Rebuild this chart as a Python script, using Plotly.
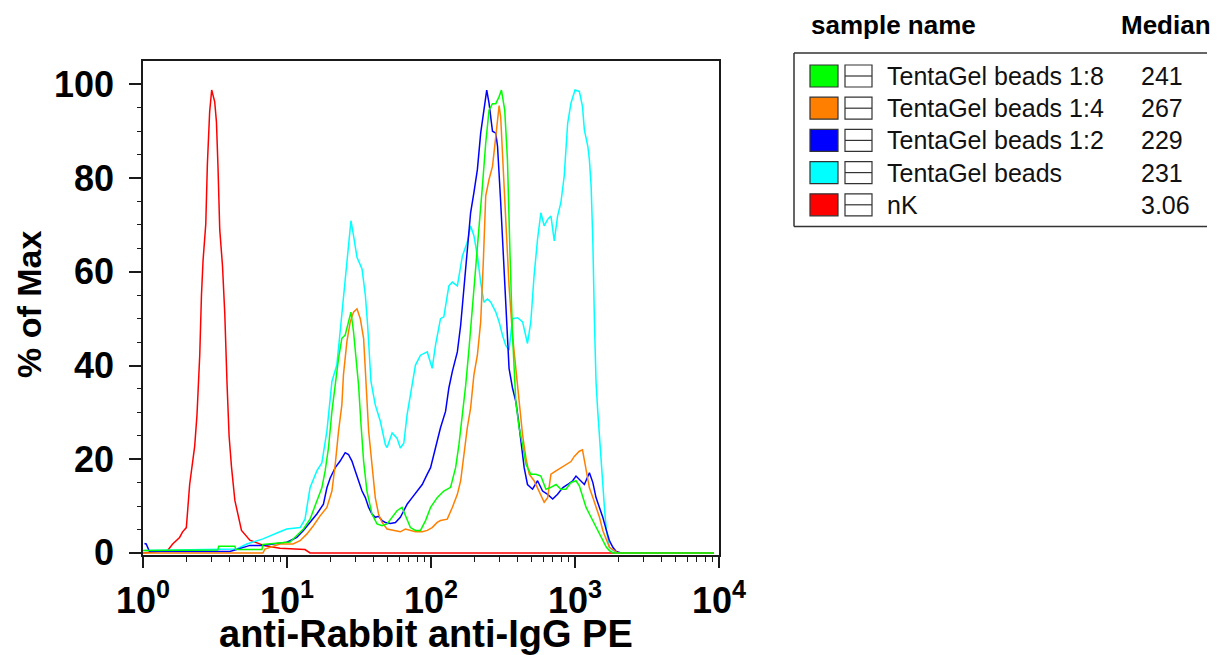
import numpy as np
import plotly.graph_objects as go

# ---------------- data (x as log10 of fluorescence, y as % of max) ----------------
sample_names = ["TentaGel beads 1:8", "TentaGel beads 1:4", "TentaGel beads 1:2",
                "TentaGel beads", "nK"]
medians = ["241", "267", "229", "231", "3.06"]
colors = ["#00FF00", "#FF8000", "#0000FF", "#00FFFF", "#FF0000"]

x_tick_vals = [1, 10, 100, 1000, 10000]
x_tick_text = ["10<sup>0</sup>", "10<sup>1</sup>", "10<sup>2</sup>", "10<sup>3</sup>", "10<sup>4</sup>"]
y_tick_vals = [0, 20, 40, 60, 80, 100]
y_tick_text = ["0", "20", "40", "60", "80", "100"]
x_title = "anti-Rabbit anti-IgG PE"
y_title = "% of Max"
header_name = "sample name"
header_median = "Median"

nk_log = [0.0, 0.171, 0.206, 0.254, 0.275, 0.301, 0.324, 0.359, 0.375, 0.394, 0.406, 0.417,
          0.436, 0.447, 0.463, 0.477, 0.498, 0.510, 0.521, 0.533, 0.552, 0.568, 0.584, 0.598,
          0.615, 0.638, 0.684, 0.742, 0.847, 0.951, 1.125, 1.16, 3.962]
nk_pct = [0.0, 0.5, 1.9, 3.3, 4.5, 5.4, 14.6, 22.8, 29.5, 42.2, 55.0, 62.4,
          70.2, 82.9, 94.2, 98.8, 96.3, 92.0, 82.2, 69.0, 61.3, 51.0, 35.8, 24.9,
          18.2, 11.2, 4.8, 2.7, 1.5, 1.0, 0.7, 0.0, 0.0]

tg_log = [0.010, 0.519, 0.651, 0.721, 0.833, 0.951, 0.998, 1.091, 1.125, 1.160, 1.207, 1.242,
          1.277, 1.312, 1.346, 1.369, 1.392, 1.427, 1.444, 1.462, 1.486, 1.521, 1.544, 1.560,
          1.583, 1.613, 1.648, 1.683, 1.695, 1.730, 1.764, 1.787, 1.811, 1.834, 1.869, 1.892,
          1.927, 1.974, 2.008, 2.031, 2.066, 2.089, 2.124, 2.148, 2.183, 2.218, 2.252, 2.275,
          2.298, 2.322, 2.345, 2.368, 2.392, 2.415, 2.450, 2.473, 2.496, 2.519, 2.542, 2.566,
          2.601, 2.636, 2.670, 2.693, 2.716, 2.740, 2.763, 2.786, 2.810, 2.833, 2.856, 2.879,
          2.902, 2.925, 2.949, 2.972, 3.000, 3.030, 3.052, 3.065, 3.089, 3.100, 3.112, 3.124,
          3.135, 3.146, 3.158, 3.177, 3.193, 3.206, 3.218, 3.239, 3.274, 3.286, 3.962]
tg_pct = [0.5, 0.85, 0.85, 1.9, 3.0, 4.5, 5.1, 5.4, 7.2, 13.9, 17.5, 19.2,
          26.0, 36.6, 40.1, 47.2, 55.0, 65.5, 70.9, 67.7, 63.1, 60.6, 55.0, 48.6,
          36.6, 31.6, 28.1, 23.1, 22.5, 25.6, 24.5, 22.4, 23.4, 29.5, 35.8, 40.1,
          42.2, 42.9, 39.4, 44.3, 50.0, 50.4, 57.0, 57.8, 57.0, 63.4, 66.3, 69.8,
          67.7, 63.4, 57.8, 53.5, 54.2, 53.5, 51.4, 49.3, 46.5, 44.3, 43.3, 50.0,
          50.2, 49.3, 44.7, 49.3, 59.2, 67.0, 72.6, 69.8, 71.2, 71.9, 66.6, 71.9,
          74.8, 80.4, 91.7, 96.0, 98.8, 98.5, 95.3, 90.3, 86.8, 83.9, 78.3, 66.3,
          49.3, 36.6, 30.2, 21.7, 13.2, 9.0, 4.8, 1.2, 0.3, 0.0, 0.0]

tg12_log = [0.010, 0.022, 0.045, 0.603, 0.649, 0.742, 0.833, 0.998, 1.021, 1.068, 1.114, 1.160,
            1.207, 1.253, 1.277, 1.300, 1.335, 1.369, 1.404, 1.427, 1.451, 1.474, 1.497, 1.521,
            1.544, 1.567, 1.590, 1.613, 1.636, 1.660, 1.683, 1.718, 1.753, 1.787, 1.811, 1.834,
            1.869, 1.904, 1.939, 1.974, 1.997, 2.031, 2.066, 2.101, 2.124, 2.148, 2.183, 2.206,
            2.229, 2.252, 2.275, 2.298, 2.322, 2.345, 2.368, 2.387, 2.403, 2.427, 2.450, 2.462,
            2.484, 2.507, 2.526, 2.542, 2.566, 2.589, 2.605, 2.629, 2.647, 2.670, 2.705, 2.740,
            2.775, 2.810, 2.845, 2.879, 2.914, 2.949, 2.984, 3.007, 3.030, 3.065, 3.100, 3.124,
            3.146, 3.170, 3.193, 3.218, 3.239, 3.263, 3.286, 3.321, 3.962]
tg12_pct = [2.0, 1.9, 0.3, 0.3, 0.7, 1.6, 1.6, 2.3, 2.6, 3.3, 4.8, 6.5,
            8.3, 10.4, 13.9, 16.0, 18.2, 19.6, 21.4, 21.0, 19.6, 17.5, 15.4, 13.2,
            11.8, 9.7, 8.3, 7.6, 7.8, 6.9, 6.5, 6.3, 6.5, 7.6, 9.0, 10.4,
            11.8, 13.2, 14.6, 16.8, 18.2, 22.4, 26.7, 30.2, 35.2, 38.7, 42.9, 48.6,
            56.4, 64.9, 72.6, 76.9, 81.8, 89.6, 94.5, 98.8, 96.0, 90.0, 89.6, 86.8,
            74.8, 60.6, 46.5, 39.4, 35.2, 32.3, 28.8, 22.4, 18.2, 14.6, 13.6, 15.4,
            13.2, 12.5, 11.5, 12.5, 13.9, 14.6, 15.4, 16.4, 15.7, 14.6, 17.1, 15.0,
            11.8, 9.7, 7.6, 4.8, 2.6, 1.2, 0.3, 0.0, 0.0]

tg14_log = [0.0, 0.833, 0.847, 0.951, 1.042, 1.091, 1.137, 1.183, 1.230, 1.277, 1.312, 1.335,
            1.358, 1.381, 1.392, 1.416, 1.439, 1.462, 1.486, 1.509, 1.532, 1.551, 1.567, 1.590,
            1.613, 1.636, 1.660, 1.695, 1.741, 1.787, 1.822, 1.857, 1.892, 1.939, 1.974, 2.008,
            2.043, 2.066, 2.113, 2.148, 2.183, 2.206, 2.229, 2.252, 2.275, 2.298, 2.322, 2.345,
            2.364, 2.380, 2.403, 2.427, 2.450, 2.473, 2.484, 2.496, 2.519, 2.542, 2.566, 2.589,
            2.612, 2.636, 2.659, 2.682, 2.716, 2.751, 2.786, 2.810, 2.833, 2.868, 2.902, 2.937,
            2.972, 2.995, 3.030, 3.052, 3.077, 3.100, 3.124, 3.146, 3.170, 3.193, 3.218, 3.239,
            3.274, 3.293, 3.962]
tg14_pct = [0.0, 0.0, 0.8, 1.9, 1.9, 2.6, 4.0, 5.8, 7.9, 9.7, 13.2, 18.9,
            26.0, 31.6, 38.0, 45.1, 49.3, 51.4, 52.1, 50.0, 45.8, 34.4, 26.0, 18.9,
            11.8, 8.3, 6.5, 5.1, 4.8, 4.5, 5.1, 4.8, 4.5, 4.5, 4.8, 5.4,
            6.5, 6.9, 7.2, 9.7, 12.5, 15.4, 21.7, 26.7, 30.9, 38.0, 42.2, 49.3,
            62.7, 76.2, 79.7, 82.5, 88.9, 95.5, 93.0, 84.6, 71.2, 57.0, 46.5, 39.4,
            32.3, 25.2, 20.3, 16.8, 15.4, 13.2, 10.8, 11.8, 16.8, 17.5, 18.2, 18.9,
            19.5, 20.6, 21.7, 22.0, 18.2, 13.9, 11.8, 9.7, 7.6, 4.8, 2.6, 1.2,
            0.5, 0.0, 0.0]

tg18_log = [0.0, 0.519, 0.526, 0.638, 0.645, 0.826, 0.833, 1.021, 1.068, 1.114, 1.160, 1.207,
            1.242, 1.265, 1.288, 1.312, 1.335, 1.358, 1.381, 1.404, 1.427, 1.444, 1.462, 1.481,
            1.497, 1.514, 1.532, 1.555, 1.590, 1.625, 1.660, 1.695, 1.730, 1.764, 1.799, 1.829,
            1.857, 1.892, 1.927, 1.962, 1.997, 2.043, 2.089, 2.136, 2.171, 2.194, 2.218, 2.241,
            2.264, 2.287, 2.310, 2.333, 2.357, 2.380, 2.403, 2.427, 2.450, 2.473, 2.489, 2.512,
            2.531, 2.549, 2.566, 2.589, 2.612, 2.636, 2.659, 2.693, 2.728, 2.763, 2.798, 2.833,
            2.868, 2.902, 2.937, 2.972, 3.007, 3.030, 3.052, 3.077, 3.100, 3.124, 3.146, 3.170,
            3.193, 3.218, 3.239, 3.265, 3.962]
tg18_pct = [0.5, 0.6, 1.4, 1.4, 0.7, 0.7, 1.8, 2.3, 3.7, 5.1, 7.2, 11.1,
            13.9, 17.5, 22.4, 30.2, 35.8, 41.5, 45.8, 46.5, 49.3, 51.4, 47.2, 40.1,
            35.8, 27.4, 19.6, 13.2, 8.3, 6.2, 5.8, 6.2, 7.6, 9.0, 9.7, 7.6,
            5.4, 4.8, 4.8, 6.9, 9.7, 11.8, 13.2, 14.0, 18.2, 23.1, 29.5, 35.8,
            43.6, 52.1, 59.2, 69.0, 78.3, 87.5, 94.5, 95.9, 95.9, 97.4, 98.8, 94.5,
            83.9, 63.4, 46.5, 32.3, 26.7, 23.1, 18.9, 16.8, 16.8, 16.4, 13.6, 14.0,
            14.6, 13.6, 13.6, 15.0, 15.4, 14.3, 12.2, 9.7, 8.3, 6.9, 5.4, 4.0,
            2.6, 1.2, 0.5, 0.0, 0.0]

series = {
    "nK": (nk_log, nk_pct),
    "TentaGel beads": (tg_log, tg_pct),
    "TentaGel beads 1:2": (tg12_log, tg12_pct),
    "TentaGel beads 1:4": (tg14_log, tg14_pct),
    "TentaGel beads 1:8": (tg18_log, tg18_pct),
}
color_of = dict(zip(sample_names, colors))

# ---------------- figure ----------------
W, H = 1224, 655
ML, MR, MT, MB = 143, 505, 61, 100
PW, PH = W - ML - MR, H - MT - MB


def PX(px):
    return (px - ML) / PW


def PY(py):
    return (H - MB - py) / PH


FONT = "Liberation Sans, Arial, sans-serif"
AX = "#1a1a1a"

fig = go.Figure()
for name in ["nK", "TentaGel beads", "TentaGel beads 1:2", "TentaGel beads 1:4", "TentaGel beads 1:8"]:
    lg, pc = series[name]
    fig.add_trace(go.Scatter(
        x=10 ** np.array(lg), y=pc, mode="lines", name=name,
        line=dict(color=color_of[name], width=1.5), showlegend=False,
    ))

minor_x = [m * 10 ** d for d in range(4) for m in range(2, 10)]
minor_y = [v for v in range(5, 105, 5) if v % 20 != 0]

fig.update_layout(
    width=W, height=H,
    margin=dict(l=ML, r=MR, t=MT, b=MB, pad=0),
    paper_bgcolor="white", plot_bgcolor="white",
    showlegend=False,
    xaxis=dict(
        type="log", range=[0, 4], showgrid=False, zeroline=False,
        showline=True, linecolor=AX, linewidth=1.5, mirror=True,
        ticks="outside", ticklen=11, tickwidth=1.5, tickcolor=AX,
        tickvals=x_tick_vals, ticktext=x_tick_text,
        tickfont=dict(family=FONT, size=36, color="black", weight="bold"),
        ticklabelstandoff=2,
        minor=dict(tickvals=minor_x, ticks="outside", ticklen=5, tickwidth=1.2,
                   tickcolor=AX, showgrid=False),
    ),
    yaxis=dict(
        range=[-0.45, 105], showgrid=False, zeroline=False,
        showline=True, linecolor=AX, linewidth=1.5, mirror=True,
        ticks="outside", ticklen=12, tickwidth=1.5, tickcolor=AX,
        tickvals=y_tick_vals, ticktext=y_tick_text,
        tickfont=dict(family=FONT, size=36, color="black", weight="bold"),
        ticklabelstandoff=8,
        minor=dict(tickvals=minor_y, ticks="outside", ticklen=4, tickwidth=1.2,
                   tickcolor=AX, showgrid=False),
    ),
)

annotations = [
    dict(text=y_title, x=PX(29), y=PY(305), xref="paper", yref="paper",
         textangle=-90, showarrow=False, xanchor="center", yanchor="middle",
         font=dict(family=FONT, size=34, color="black", weight="bold")),
    dict(text=x_title, x=PX(426), y=PY(634), xref="paper", yref="paper",
         showarrow=False, xanchor="center", yanchor="middle",
         font=dict(family=FONT, size=38, color="black", weight="bold")),
    dict(text=header_name, x=PX(809), y=PY(25), xref="paper", yref="paper",
         showarrow=False, xanchor="left", yanchor="middle",
         font=dict(family=FONT, size=26, color="black", weight="bold")),
    dict(text=header_median, x=PX(1119), y=PY(25), xref="paper", yref="paper",
         showarrow=False, xanchor="left", yanchor="middle",
         font=dict(family=FONT, size=26, color="black", weight="bold")),
]

shapes = [
    dict(type="line", xref="paper", yref="paper", x0=PX(794), x1=PX(1207), y0=PY(53), y1=PY(53),
         line=dict(color="#333333", width=1.5)),
    dict(type="line", xref="paper", yref="paper", x0=PX(794), x1=PX(1207), y0=PY(226.5), y1=PY(226.5),
         line=dict(color="#333333", width=1.5)),
    dict(type="line", xref="paper", yref="paper", x0=PX(794), x1=PX(794), y0=PY(53), y1=PY(226.5),
         line=dict(color="#333333", width=1.5)),
]

for i, (nm, med, col) in enumerate(zip(sample_names, medians, colors)):
    cy = 76 + 32.2 * i
    shapes.append(dict(type="rect", xref="paper", yref="paper",
                       x0=PX(810), x1=PX(838), y0=PY(cy - 11), y1=PY(cy + 11),
                       fillcolor=col, line=dict(color="#333333", width=1.2)))
    shapes.append(dict(type="rect", xref="paper", yref="paper",
                       x0=PX(845), x1=PX(872), y0=PY(cy - 11), y1=PY(cy + 11),
                       fillcolor="white", line=dict(color="#333333", width=1.2)))
    shapes.append(dict(type="line", xref="paper", yref="paper",
                       x0=PX(845), x1=PX(872), y0=PY(cy), y1=PY(cy),
                       line=dict(color="#333333", width=1.2)))
    annotations.append(dict(text=nm, x=PX(885), y=PY(cy), xref="paper", yref="paper",
                            showarrow=False, xanchor="left", yanchor="middle",
                            font=dict(family=FONT, size=25, color="#111111")))
    annotations.append(dict(text=med, x=PX(1139), y=PY(cy), xref="paper", yref="paper",
                            showarrow=False, xanchor="left", yanchor="middle",
                            font=dict(family=FONT, size=25, color="#111111")))

fig.update_layout(annotations=annotations, shapes=shapes)

fig.write_html(
    "out.html",
    config={"displayModeBar": False},
    post_script="document.body.style.margin='0';document.body.style.padding='0';",
)
